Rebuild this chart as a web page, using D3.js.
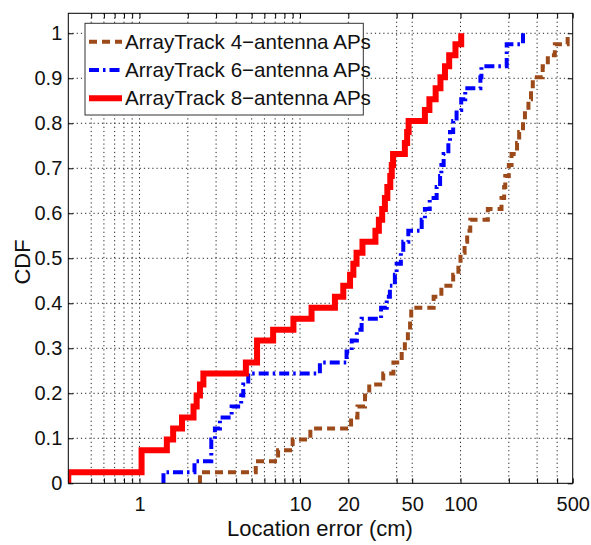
<!DOCTYPE html>
<html>
<head>
<meta charset="utf-8">
<script src="https://cdn.jsdelivr.net/npm/d3@7"></script>
<style>
  html, body { margin: 0; padding: 0; background: #fff; }
  svg { display: block; font-family: "Liberation Sans", Arial, Helvetica, sans-serif; }
</style>
</head>
<body>
<svg id="chart" width="591" height="545"></svg>
<script>
// Sorted location errors (cm) for each AP configuration, 41 test positions each
const errors4 = [2.38, 5.3, 7.3, 9.0, 11.6, 20.8, 22.8, 25.4, 27, 33, 38.2, 43, 45, 47, 48.5, 49.3,
  68, 76, 90, 97, 100, 106, 110, 115, 148, 180, 187, 190, 200, 208, 225, 232, 245, 252, 265, 275,
  282, 325, 350, 387, 465];
const errors6 = [1.41, 2.2, 2.8, 2.8, 2.95, 3.17, 3.75, 4.3, 4.43, 4.76, 13.3, 19.5, 21, 22.6, 24.2,
  32, 34.7, 36.3, 39, 40, 42.5, 44, 47.3, 57.3, 60, 64.3, 71, 74.6, 76, 78.5, 84, 86, 90, 94.5, 101,
  107, 133, 135, 194, 194, 245];
const errors8 = [0.36, 1.03, 1.03, 1.48, 1.62, 1.84, 2.17, 2.27, 2.38, 2.5, 4.6, 5.4, 5.4, 6.8, 9.1,
  11.8, 16.5, 18.6, 20.5, 21.5, 22.5, 24.5, 29.5, 31, 32.5, 33.8, 35, 36.5, 37.3, 38, 45, 46.5, 47.5,
  60, 64, 70, 75, 80, 85, 93, 101];

const seriesNames = ["ArrayTrack 4\u2212antenna APs", "ArrayTrack 6\u2212antenna APs", "ArrayTrack 8\u2212antenna APs"];

// Axis ticks
const xTickValues = [0.5, 0.6, 0.7, 0.8, 0.9, 1, 2, 3, 4, 5, 6, 7, 8, 9, 10, 20, 40, 50, 100, 200, 300, 400, 500];
const xTickLabels = [1, 10, 20, 50, 100, 500];
const yTickValues = [0, 0.1, 0.2, 0.3, 0.4, 0.5, 0.6, 0.7, 0.8, 0.9, 1];

const svg = d3.select("#chart");
const plotL = 68.3, plotR = 572.7, plotT = 13.3, plotB = 483.3;

const x = d3.scaleLog().domain([0.36, 500]).range([plotL, plotR]);
const y = d3.scaleLinear().domain([0, 1.0444]).range([plotB, plotT]);

// Dotted grid
const grid = svg.append("g");
grid.selectAll("line.vx")
  .data(xTickValues.filter(v => v < 500))
  .join("line")
  .attr("x1", d => x(d)).attr("x2", d => x(d))
  .attr("y1", plotT).attr("y2", plotB)
  .attr("stroke", "#222").attr("stroke-width", 1).attr("stroke-dasharray", "1.2,3");
grid.selectAll("line.hy")
  .data(yTickValues.filter(v => v > 0))
  .join("line")
  .attr("x1", plotL).attr("x2", plotR)
  .attr("y1", d => y(d)).attr("y2", d => y(d))
  .attr("stroke", "#222").attr("stroke-width", 1).attr("stroke-dasharray", "1.2,3");

// Axes with inward ticks on all four sides
const fmtX = d => xTickLabels.includes(d) ? String(d) : "";
const fmtY = d => d === 0 ? "0" : d === 1 ? "1" : d3.format(".1f")(d);

const axB = svg.append("g").attr("transform", `translate(0,${plotB})`)
  .call(d3.axisBottom(x).tickValues(xTickValues).tickFormat(fmtX).tickSizeInner(-5).tickSizeOuter(0).tickPadding(14));
const axT = svg.append("g").attr("transform", `translate(0,${plotT})`)
  .call(d3.axisTop(x).tickValues(xTickValues).tickFormat("").tickSizeInner(-5).tickSizeOuter(0));
const axL = svg.append("g").attr("transform", `translate(${plotL},0)`)
  .call(d3.axisLeft(y).tickValues(yTickValues).tickFormat(fmtY).tickSizeInner(-5).tickSizeOuter(0).tickPadding(6));
const axR = svg.append("g").attr("transform", `translate(${plotR},0)`)
  .call(d3.axisRight(y).tickValues(yTickValues).tickFormat("").tickSizeInner(-5).tickSizeOuter(0));

[axB, axT, axL, axR].forEach(a => {
  a.select(".domain").remove();
  a.selectAll(".tick line").attr("stroke", "#000");
  a.selectAll("text").attr("font-size", 20).attr("fill", "#111")
    .attr("font-family", "'Liberation Sans', Arial, sans-serif");
});

// Clip region for the curves
svg.append("clipPath").attr("id", "plotClip")
  .append("rect").attr("x", plotL).attr("y", plotT).attr("width", plotR - plotL).attr("height", plotB - plotT);

// Empirical CDF step curves
const styles = [
  { data: errors4, color: "#9c4a1a", width: 4, dash: "8,5" },
  { data: errors6, color: "#0000ff", width: 4, dash: "10,4,2.5,4" },
  { data: errors8, color: "#ff0000", width: 6, dash: null }
];

const line = d3.line().x(d => x(d[0])).y(d => y(d[1])).curve(d3.curveStepAfter);
const curves = svg.append("g").attr("clip-path", "url(#plotClip)");
styles.forEach(s => {
  const n = s.data.length;
  const pts = [[s.data[0], 0]].concat(s.data.map((v, i) => [v, (i + 1) / n]));
  curves.append("path")
    .attr("d", line(pts))
    .attr("fill", "none")
    .attr("stroke", s.color)
    .attr("stroke-width", s.width)
    .attr("stroke-dasharray", s.dash)
    .attr("stroke-linejoin", "miter");
});

// Plot frame
svg.append("rect").attr("x", plotL).attr("y", plotT).attr("width", plotR - plotL).attr("height", plotB - plotT)
  .attr("fill", "none").attr("stroke", "#000").attr("stroke-width", 1);

// Axis titles
svg.append("text").attr("x", 320).attr("y", 536).attr("text-anchor", "middle")
  .attr("font-size", 22).attr("fill", "#111").text("Location error (cm)");
svg.append("text").attr("transform", "translate(30,262) rotate(-90)").attr("text-anchor", "middle")
  .attr("font-size", 22).attr("fill", "#111").text("CDF");

// Legend
const lg = svg.append("g");
lg.append("rect").attr("x", 85).attr("y", 23.3).attr("width", 278.3).attr("height", 91.7)
  .attr("fill", "#fff").attr("stroke", "#333").attr("stroke-width", 1);
styles.forEach((s, i) => {
  const cy = 41.7 + i * 28.3;
  lg.append("line").attr("x1", 89).attr("x2", 122).attr("y1", cy).attr("y2", cy)
    .attr("stroke", s.color).attr("stroke-width", s.width).attr("stroke-dasharray", s.dash);
  lg.append("text").attr("x", 125).attr("y", cy + 7).attr("font-size", 20.6).attr("fill", "#111")
    .text(seriesNames[i]);
});
</script>
</body>
</html>
